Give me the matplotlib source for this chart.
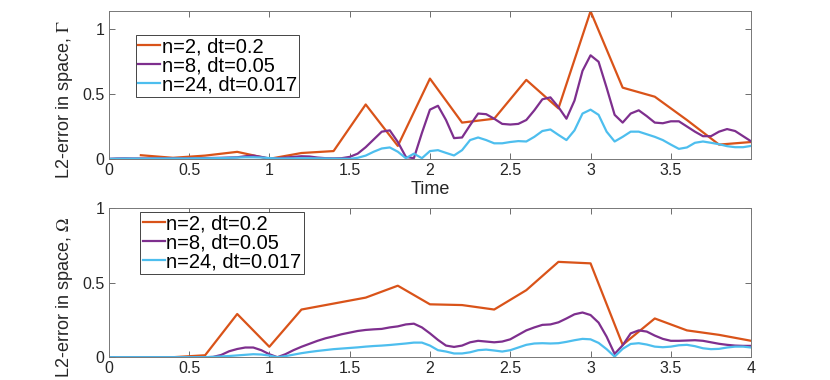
import numpy as np
import matplotlib
matplotlib.use("Agg")
import matplotlib.pyplot as plt

plt.rcParams['font.family'] = ['Liberation Sans', 'DejaVu Sans']
plt.rcParams['mathtext.fontset'] = 'stix'

# time grids
t_coarse = np.round(np.arange(0, 4.001, 0.2), 2)
t_fine = np.round(np.arange(0, 4.001, 0.05), 2)

# top panel (Gamma)
top_n2 = [np.nan, 0.028, 0.008, 0.025, 0.054, 0.0, 0.045, 0.06, 0.42, 0.10, 0.62,
          0.28, 0.31, 0.61, 0.39, 1.14, 0.55, 0.48, 0.30, 0.11, 0.13]
top_n8 = [0.0, 0.003, 0.004, 0.003, 0.003, 0.003, 0.004, 0.004, 0.003, 0.003,
          0.004, 0.005, 0.006, 0.007, 0.008, 0.01, 0.012,
          0.02, 0.025, 0.015, 0.003, 0.005, 0.01, 0.015, 0.02, 0.018, 0.01,
          0.005, 0.004, 0.005, 0.015,
          0.04, 0.09, 0.15, 0.21, 0.22, 0.13, 0.015, 0.005, 0.2, 0.38,
          0.41, 0.30, 0.16, 0.165, 0.26, 0.35, 0.345, 0.31, 0.27, 0.265,
          0.27, 0.30, 0.375, 0.46, 0.475, 0.40, 0.31, 0.45, 0.68, 0.80,
          0.75, 0.55, 0.34, 0.28, 0.35, 0.375, 0.33, 0.28, 0.275, 0.29,
          0.29, 0.25, 0.21, 0.175, 0.175, 0.21, 0.23, 0.215, 0.175, 0.135]
top_n24 = [0.0, 0.001, 0.002, 0.002, 0.002, 0.002, 0.003, 0.003, 0.003, 0.003,
           0.003, 0.004, 0.004, 0.005, 0.006, 0.008, 0.01,
           0.012, 0.012, 0.01, 0.006, 0.003, 0.003, 0.004, 0.005, 0.005, 0.004,
           0.003, 0.002, 0.001, 0.0,
           0.008, 0.025, 0.055, 0.08, 0.088, 0.055, 0.005, 0.04, 0.005, 0.06,
           0.067, 0.046, 0.026, 0.067, 0.145, 0.165, 0.145, 0.12, 0.12, 0.13,
           0.137, 0.134, 0.17, 0.215, 0.227, 0.185, 0.145, 0.22, 0.35, 0.38,
           0.34, 0.21, 0.134, 0.17, 0.21, 0.21, 0.19, 0.17, 0.145, 0.11,
           0.077, 0.088, 0.124, 0.134, 0.124, 0.113, 0.098, 0.09, 0.09, 0.10]

# bottom panel (Omega)
bot_n2 = [0.0, 0.0, 0.0, 0.013, 0.29, 0.07, 0.32, 0.36, 0.40, 0.48, 0.355,
          0.35, 0.32, 0.45, 0.64, 0.63, 0.083, 0.26, 0.18, 0.15, 0.11]
bot_n8 = [0.0] * 13 + \
         [0.002, 0.015, 0.04, 0.055, 0.065, 0.065, 0.047, 0.02,
          0.0, 0.02, 0.047, 0.07, 0.09, 0.11, 0.127, 0.14, 0.154, 0.165,
          0.176, 0.183, 0.187, 0.19, 0.2, 0.207, 0.22, 0.225, 0.2, 0.16,
          0.116, 0.078, 0.069, 0.078, 0.1, 0.11, 0.105, 0.1, 0.105, 0.12,
          0.15, 0.18, 0.2, 0.217, 0.22, 0.234, 0.26, 0.288, 0.30, 0.283,
          0.232, 0.138, 0.022, 0.08, 0.16, 0.18, 0.172, 0.145, 0.123, 0.11,
          0.11, 0.112, 0.114, 0.11, 0.1, 0.09, 0.083, 0.078, 0.076, 0.076]
bot_n24 = [0.0] * 13 + \
          [0.002, 0.005, 0.008, 0.012, 0.016, 0.02, 0.018, 0.011,
           0.0, 0.007, 0.017, 0.027, 0.035, 0.042, 0.048, 0.054, 0.058, 0.062,
           0.066, 0.071, 0.075, 0.078, 0.082, 0.087, 0.092, 0.098, 0.098, 0.078,
           0.047, 0.038, 0.025, 0.025, 0.033, 0.047, 0.051, 0.045, 0.038, 0.047,
           0.065, 0.083, 0.092, 0.094, 0.092, 0.094, 0.103, 0.114, 0.123, 0.12,
           0.096, 0.054, 0.004, 0.056, 0.089, 0.094, 0.085, 0.071, 0.067, 0.071,
           0.08, 0.083, 0.074, 0.06, 0.054, 0.056, 0.065, 0.071, 0.071, 0.065]

labels = ['n=2, dt=0.2', 'n=8, dt=0.05', 'n=24, dt=0.017']
colors = ['#D95319', '#7E2F8E', '#4DBEEE']

fig = plt.figure(figsize=(8.3, 3.8), dpi=100)
ax1 = fig.add_axes([0.131, 0.582, 0.774, 0.390])
ax2 = fig.add_axes([0.131, 0.060, 0.774, 0.392])


def style(ax, ylim, xticks, xlabels):
    ax.set_xlim(0, 4)
    ax.set_ylim(*ylim)
    ax.set_xticks(xticks)
    ax.set_xticklabels(xlabels)
    ax.set_yticks([0, 0.5, 1])
    ax.set_yticklabels(['0', '0.5', '1'])
    ax.tick_params(direction='in', top=True, right=True, length=4, width=0.6,
                   color='#555555', labelsize=11.5, labelcolor='#262626', pad=3)
    for s in ax.spines.values():
        s.set_color('#777777')
        s.set_linewidth(0.7)


series_top = [(t_coarse, top_n2), (t_fine, top_n8), (t_fine, top_n24)]
series_bot = [(t_coarse, bot_n2), (t_fine, bot_n8), (t_fine, bot_n24)]

for ax, series in [(ax1, series_top), (ax2, series_bot)]:
    for (t, v), c, lab in zip(series, colors, labels):
        ax.plot(t, v, color=c, lw=1.6, label=lab)

style(ax1, (0, 1.145), [0, 0.5, 1, 1.5, 2, 2.5, 3, 3.5],
      ['0', '0.5', '1', '1.5', '2', '2.5', '3', '3.5'])
style(ax2, (0, 1.0), [0, 0.5, 1, 1.5, 2, 2.5, 3, 3.5, 4],
      ['0', '0.5', '1', '1.5', '2', '2.5', '3', '3.5', '4'])

ax1.set_xlabel('Time', fontsize=13, color='#262626', labelpad=2)
ax1.set_ylabel(r'L2-error in space, $\Gamma$', fontsize=13, color='#262626')
ax2.set_ylabel(r'L2-error in space, $\Omega$', fontsize=13, color='#262626')
ax1.yaxis.set_label_coords(-0.053, 0.40)
ax2.yaxis.set_label_coords(-0.053, 0.40)

leg_kw = dict(loc='upper left', borderaxespad=0, fontsize=14.5, handlelength=1.1,
              handletextpad=0.08, labelspacing=0.0, borderpad=0.12, fancybox=False,
              framealpha=1, edgecolor='#262626')
l1 = ax1.legend(bbox_to_anchor=(0.042, 0.836), **leg_kw)
l2 = ax2.legend(bbox_to_anchor=(0.049, 0.975), **leg_kw)
for l in (l1, l2):
    l.get_frame().set_linewidth(0.6)

fig.savefig('out.png', dpi=100)
